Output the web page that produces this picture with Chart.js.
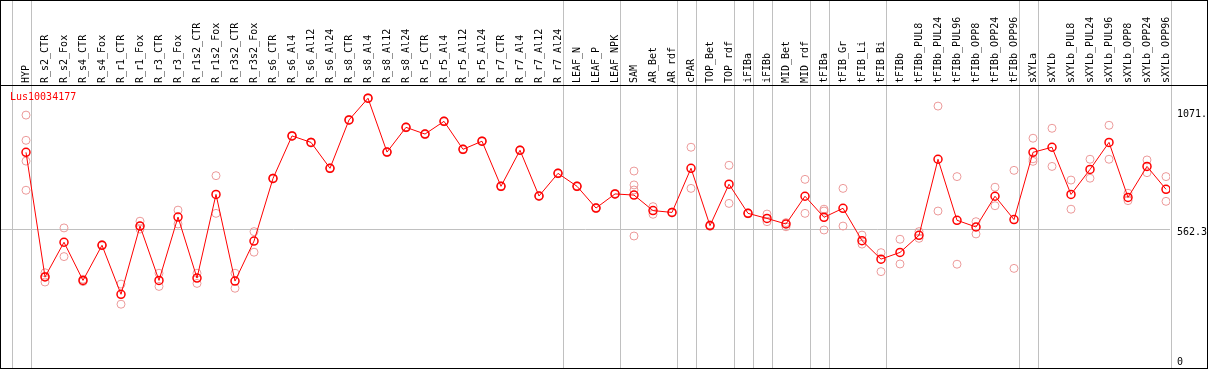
<!DOCTYPE html>
<html>
<head>
<meta charset="utf-8">
<script src="https://cdn.jsdelivr.net/npm/chart.js@4.4.1/dist/chart.umd.min.js"></script>
<style>
  html, body { margin: 0; padding: 0; background: #fff; }
  canvas { display: block; }
</style>
</head>
<body>
<canvas id="myChart" width="1209" height="370"></canvas>
<script>
var geneName = 'Lus10034177';

var categories = [
  'HYP', 'R_s2_CTR', 'R_s2_Fox', 'R_s4_CTR', 'R_s4_Fox', 'R_r1_CTR', 'R_r1_Fox',
  'R_r3_CTR', 'R_r3_Fox', 'R_r1s2_CTR', 'R_r1s2_Fox', 'R_r3s2_CTR', 'R_r3s2_Fox',
  'R_s6_CTR', 'R_s6_Al4', 'R_s6_Al12', 'R_s6_Al24', 'R_s8_CTR', 'R_s8_Al4',
  'R_s8_Al12', 'R_s8_Al24', 'R_r5_CTR', 'R_r5_Al4', 'R_r5_Al12', 'R_r5_Al24',
  'R_r7_CTR', 'R_r7_Al4', 'R_r7_Al12', 'R_r7_Al24', 'LEAF_N', 'LEAF_P', 'LEAF_NPK',
  'SAM', 'AR_Bet', 'AR_rdf', 'cPAR', 'TOP_Bet', 'TOP_rdf', 'iFIBa', 'iFIBb',
  'MID_Bet', 'MID_rdf', 'tFIBa', 'tFIB_Gr', 'tFIB_Li', 'tFIB_Bi', 'tFIBb',
  'tFIBb_PUL8', 'tFIBb_PUL24', 'tFIBb_PUL96', 'tFIBb_OPP8', 'tFIBb_OPP24', 'tFIBb_OPP96',
  'sXYLa', 'sXYLb', 'sXYLb_PUL8', 'sXYLb_PUL24', 'sXYLb_PUL96', 'sXYLb_OPP8',
  'sXYLb_OPP24', 'sXYLb_OPP96'
];

// mean expression per sample
var means = [
  894, 355, 505, 340, 492, 280, 575, 340, 614, 350, 712, 337, 510,
  781, 965, 937, 825, 1034, 1128, 895, 1002, 973, 1028, 907, 942,
  747, 903, 705, 803, 747, 653, 714,
  709, 642, 634, 825, 577, 756, 630, 608, 584, 704, 613, 652, 512, 432, 461,
  535, 864, 600, 571, 704, 603,
  894, 916, 712, 820, 937, 699, 833, 734
];

// individual replicates per sample
var replicates = [
  [1055, 946, 856, 730], [373, 358, 333], [567, 443], [345, 335], [495, 490],
  [324, 237], [596, 575, 562], [371, 314], [644, 584], [371, 327], [793, 630],
  [371, 306], [551, 462],
  [783, 779], [967, 963], [939, 935], [827, 823], [1036, 1032], [1130, 1126],
  [897, 893], [1004, 1000], [975, 971], [1030, 1026], [909, 905], [944, 940],
  [749, 745], [905, 901], [707, 703], [805, 801], [749, 745], [655, 651], [716, 712],
  [813, 753, 731, 532], [659, 626], [636, 632], [916, 738], [580, 574], [838, 673],
  [632, 628], [627, 594], [572, 590], [777, 630], [648, 640, 558], [738, 575],
  [536, 497], [460, 378], [518, 411],
  [551, 522], [1094, 640], [789, 410], [594, 541], [743, 663], [816, 392],
  [955, 866, 855], [998, 833], [774, 648], [864, 782], [1011, 864], [717, 685],
  [861, 806], [789, 682]
];

// sample index after which a group separator is drawn
var groupBreaks = [-1, 0, 28, 31, 34, 35, 37, 38, 39, 41, 42, 45, 52, 53, 60];

var yTicks = [0, 562.3, 1071];
var yTickLabels = ['0', '562.3', '1071.'];

var meanPoints = means.map(function(v, i) { return { x: i, y: v }; });
var repPoints = [];
replicates.forEach(function(reps, i) {
  reps.forEach(function(v) { repPoints.push({ x: i, y: v }); });
});

var mono = 'DejaVu Sans Mono';

var framePlugin = {
  id: 'frame',
  beforeDatasetsDraw: function(chart) {
    var ctx = chart.ctx;
    var xs = chart.scales.x;
    var area = chart.chartArea;
    ctx.save();
    ctx.strokeStyle = '#c0c0c0';
    ctx.lineWidth = 1;
    groupBreaks.forEach(function(k) {
      var px = Math.round(xs.getPixelForValue(k + 0.247)) + 0.5;
      ctx.beginPath();
      ctx.moveTo(px, 0);
      ctx.lineTo(px, area.bottom);
      ctx.stroke();
    });
    ctx.restore();
  },
  afterDraw: function(chart) {
    var ctx = chart.ctx;
    var area = chart.chartArea;
    ctx.save();
    ctx.strokeStyle = '#000';
    ctx.lineWidth = 1;
    ctx.strokeRect(0.5, 0.5, chart.width - 2, chart.height - 2);
    ctx.beginPath();
    ctx.moveTo(0, area.top + 0.5);
    ctx.lineTo(chart.width - 1, area.top + 0.5);
    ctx.stroke();
    ctx.fillStyle = '#ff0000';
    ctx.font = '10px "' + mono + '"';
    ctx.textBaseline = 'middle';
    ctx.fillText(geneName, 10, area.top + 12);
    ctx.restore();
  }
};

var ctx = document.getElementById('myChart').getContext('2d');
var chart = new Chart(ctx, {
  type: 'line',
  data: {
    datasets: [
      {
        label: 'mean',
        data: meanPoints,
        borderColor: '#ff0000',
        borderWidth: 1,
        pointRadius: 4,
        pointBorderWidth: 1.5,
        pointBorderColor: '#ff0000',
        pointBackgroundColor: 'rgba(0,0,0,0)',
        tension: 0,
        order: 1
      },
      {
        label: 'replicates',
        data: repPoints,
        showLine: false,
        pointRadius: 4,
        pointBorderWidth: 1,
        pointBorderColor: '#ec9a9a',
        pointBackgroundColor: 'rgba(0,0,0,0)',
        order: 2
      }
    ]
  },
  options: {
    responsive: false,
    animation: false,
    devicePixelRatio: 1,
    layout: { autoPadding: false, padding: { left: 1, right: 0, top: 0, bottom: 1 } },
    plugins: {
      legend: { display: false },
      tooltip: { enabled: false }
    },
    scales: {
      x: {
        type: 'linear',
        position: 'top',
        min: -1.3158,
        max: 60.2105,
        afterBuildTicks: function(scale) {
          scale.ticks = categories.map(function(c, i) { return { value: i }; });
        },
        afterFit: function(scale) {
          scale.height = 85;
          scale.paddingLeft = 0;
          scale.paddingRight = 0;
        },
        grid: { display: false, drawTicks: false },
        border: { display: false },
        ticks: {
          autoSkip: false,
          minRotation: 90,
          maxRotation: 90,
          padding: 2,
          labelOffset: 12,
          color: '#000',
          font: { family: mono, size: 10 },
          callback: function(value) { return categories[value]; }
        }
      },
      y: {
        type: 'linear',
        position: 'right',
        min: -43.25,
        max: 1185.2,
        afterBuildTicks: function(scale) {
          scale.ticks = yTicks.map(function(v) { return { value: v }; });
        },
        afterFit: function(scale) {
          scale.width = 39;
          scale.paddingTop = 0;
          scale.paddingBottom = 0;
        },
        grid: {
          drawTicks: false,
          color: function(c) {
            return c.tick && c.tick.value === 562.3 ? '#c0c0c0' : 'rgba(0,0,0,0)';
          }
        },
        border: { display: false },
        ticks: {
          padding: 7,
          labelOffset: 3,
          color: '#000',
          font: { family: mono, size: 10 },
          callback: function(value) { return yTickLabels[yTicks.indexOf(value)]; }
        }
      }
    }
  },
  plugins: [framePlugin]
});
</script>
</body>
</html>
